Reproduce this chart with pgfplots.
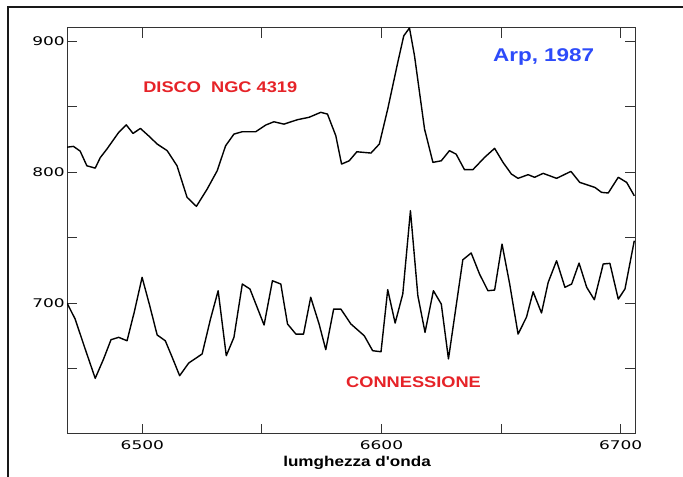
\documentclass[border=0pt]{standalone}
\usepackage{pgfplots}
\pgfplotsset{compat=1.18}
\usepackage{fontspec}
\setmainfont{Liberation Sans}
\newfontfamily\tickfont[FakeStretch=1.42]{DejaVu Sans}
\newfontfamily\labfont[FakeStretch=1.2]{Liberation Sans}
\newfontfamily\annfont[FakeStretch=1.18]{Liberation Sans}
\newfontfamily\arpfont[FakeStretch=1.22]{Liberation Sans}
\definecolor{annred}{RGB}{230,35,40}
\definecolor{annblue}{RGB}{45,75,250}
\begin{document}
\begin{tikzpicture}[x=1bp,y=1bp]
\fill[white] (0,0) rectangle (683,477);
\path[use as bounding box] (0,0) rectangle (683,477);
\draw[line width=2.2bp, black!90] (8,0) -- (8,470) -- (683,470);
\begin{axis}[
  at={(67bp,43bp)}, anchor=south west,
  scale only axis, width=568bp, height=406bp,
  xmin=6468.5, xmax=6706, ymin=600, ymax=910,
  xtick={6500,6550,6600,6650,6700},
  xticklabels={6500,,6600,,6700},
  ytick={650,700,750,800,850,900},
  yticklabels={,700,,800,,900},
  tick align=inside, xtick pos=both, ytick pos=both,
  major tick length=10bp,
  axis line style={black!80, line width=1bp},
  tick style={black!80, line width=1bp},
  /pgf/number format/assume math mode=true,
  xticklabel style={font=\tickfont\fontsize{12}{12}\selectfont, yshift=-3bp},
  yticklabel style={font=\tickfont\fontsize{12}{12}\selectfont, inner sep=2bp},
  xlabel={lumghezza d'onda},
  xlabel style={font=\labfont\bfseries\fontsize{14.3}{14.3}\selectfont, at={(axis description cs:0.5106,0)}, anchor=north, yshift=-18.5bp},
]
\addplot[black, line width=1.4bp, line join=round] coordinates {
(6468.5,819) (6471.2,819.6) (6474,816) (6476.8,804.8) (6480.3,803) (6482.4,811)
(6485.2,817.6) (6490,830) (6493.3,836) (6496.1,829.5) (6499.2,833.3) (6502.6,827.7)
(6506.2,821.4) (6510.4,816.3) (6514.5,804.8) (6518.7,780.7) (6522.6,773.8) (6527.1,787)
(6531.3,801) (6534.8,820) (6538.3,829) (6541.8,830.8) (6547.4,830.8) (6551.6,835.9)
(6555,838.4) (6559.2,836.6) (6564.9,840) (6569.7,841.8) (6574.6,845.6) (6577.4,844.3)
(6580.9,827.7) (6583.3,806.1) (6586.5,808.6) (6589.7,815.5) (6595.6,814.5) (6599.1,821.4)
(6602.6,848.1) (6606.8,883.7) (6609.3,904) (6611.7,910) (6613.8,888.8) (6618,832.8)
(6621.5,807.4) (6625,808.6) (6628.4,816.3) (6631.2,813.7) (6634.7,801.8) (6638.2,801.8)
(6643.1,811.2) (6647.3,818.1) (6650.8,807.4) (6654.3,798.5) (6657.1,795.2) (6661.3,798)
(6664,796) (6667.6,799) (6673.2,795.2) (6679.2,800.5) (6682.9,792.1) (6689.2,788.3)
(6692,784.5) (6694.8,784) (6699,796) (6702.5,792.1) (6705.7,781.9)
};
\addplot[black, line width=1.4bp, line join=round] coordinates {
(6468.5,700) (6471.9,687.8) (6476.1,664.9) (6480.3,642.5) (6483.8,657.3) (6486.9,672)
(6490.1,673.8) (6493.6,671.2) (6496.6,692.9) (6499.9,719.6) (6503.1,697.9) (6506.2,675.6)
(6509.6,671.2) (6512.5,658.5) (6515.6,644.5) (6519.4,654.2) (6525,661.1) (6528.5,687.8)
(6531.7,709.4) (6535.1,659.8) (6538.3,673.8) (6541.8,714.5) (6545,710.7) (6550.9,683.2)
(6554.4,717) (6557.9,714.5) (6560.7,684) (6564.2,676.3) (6567.4,676.3) (6570.4,704.4)
(6573.9,684) (6576.7,664.4) (6580,695.4) (6583,695.4) (6587.2,684) (6592.8,675)
(6596.3,663.6) (6599.8,662.8) (6602.6,710.2) (6605.7,684.7) (6608.9,706.9) (6612.1,770.5)
(6615.2,705.6) (6618.2,677.6) (6621.7,709.4) (6625,699.2) (6628,657.3) (6634,733)
(6637.5,738.2) (6641,722.1) (6644.5,709.4) (6647.3,709.9) (6650.4,745) (6653.6,714.5)
(6657.1,676.3) (6660.6,689.1) (6663.4,708.6) (6666.9,692.4) (6669.7,715.8) (6673.2,732.3)
(6676.7,712) (6679.5,714.5) (6682.6,730.5) (6685.8,712) (6689,702.5) (6692.7,729.8)
(6695.5,730.3) (6699,703) (6701.8,710.7) (6705.7,747.6)
};
\node[text=annred, font=\annfont\bfseries\fontsize{15.5}{15.5}\selectfont] at (axis cs:6532.6,864.5) {DISCO\ \ NGC 4319};
\node[text=annred, font=\annfont\bfseries\fontsize{15.5}{15.5}\selectfont] at (axis cs:6613.4,639.3) {CONNESSIONE};
\node[text=annblue, font=\arpfont\bfseries\fontsize{18.5}{18.5}\selectfont] at (axis cs:6667.8,888.2) {Arp, 1987};
\end{axis}
\end{tikzpicture}
\end{document}
